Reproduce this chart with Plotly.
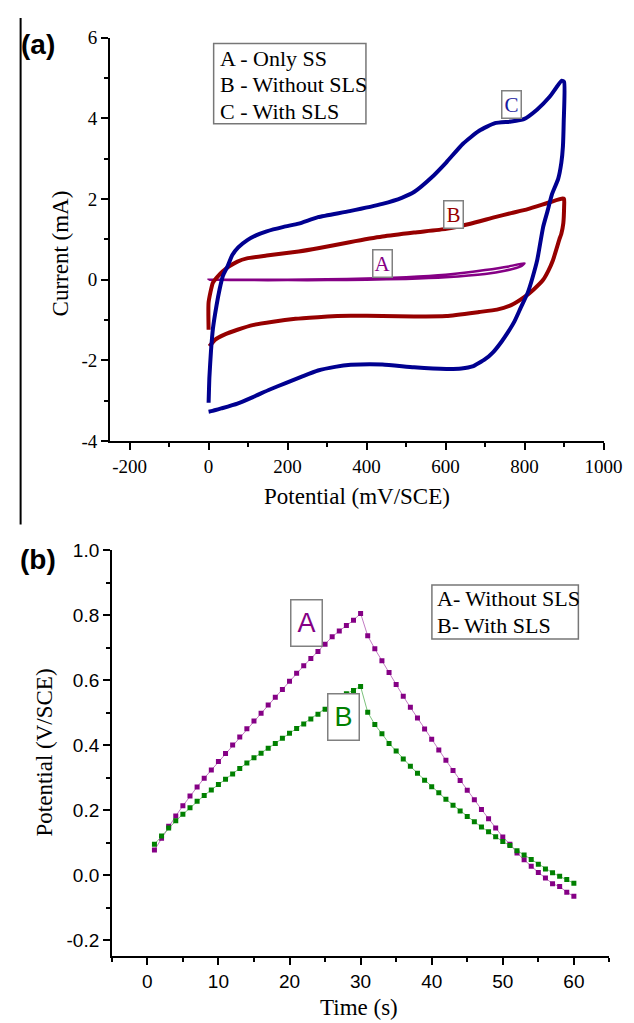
import plotly.graph_objects as go

W, H = 634, 1023

# ---------------- Panel (a): cyclic voltammograms ----------------
# C - With SLS (blue)
c_mv = [0, 2, 6, 11, 20, 28, 36, 48, 60, 75, 98, 120, 147, 190, 228, 277, 357, 440, 489, 521,
        563, 602, 644, 685, 725, 766, 798, 832, 864, 894, 900,
        899, 897, 893, 885, 869, 858, 847, 832, 820, 808, 790, 774, 758, 742, 720, 700, 668,
        640, 602, 520, 440, 360, 320, 277, 236, 195, 155, 114, 73, 32, 10, 0]
c_ma = [-3.05, -2.42, -1.77, -1.21, -0.64, -0.23, 0.09, 0.33, 0.61, 0.80, 0.98, 1.10, 1.20, 1.31, 1.39, 1.55, 1.70, 1.88, 2.03, 2.18,
        2.52, 2.91, 3.37, 3.69, 3.88, 3.92, 3.98, 4.22, 4.54, 4.93, 4.90,
        3.90, 3.30, 2.90, 2.50, 2.11, 1.70, 1.31, 0.49, 0.05, -0.32, -0.70, -1.04, -1.30, -1.53, -1.80, -1.97, -2.15,
        -2.20, -2.21, -2.17, -2.10, -2.11, -2.16, -2.25, -2.40, -2.56, -2.72, -2.90, -3.07, -3.19, -3.25, -3.27]

# B - Without SLS (dark red)
b_mv = [0, 0, 11, 24, 36, 52, 73, 97, 147, 228, 277, 357, 440, 520, 602, 660, 725, 766, 808, 864, 896, 900,
        900, 898, 893, 888, 872, 860, 847, 823, 798, 766, 730, 685, 602, 520, 440, 360, 326, 277, 220, 163,
        114, 73, 40, 16, 2]
b_ma = [-1.24, -0.56, -0.07, 0.09, 0.21, 0.33, 0.45, 0.53, 0.60, 0.70, 0.78, 0.93, 1.07, 1.17, 1.26, 1.38, 1.55, 1.65, 1.75, 1.92, 2.01, 2.00,
        1.80, 1.40, 1.14, 1.00, 0.49, 0.22, 0.00, -0.24, -0.44, -0.63, -0.74, -0.80, -0.90, -0.91, -0.90, -0.89, -0.90, -0.93, -0.97, -1.04,
        -1.12, -1.24, -1.36, -1.49, -1.65]

# A - Only SS (purple)
a_mv = [0, 100, 200, 300, 400, 500, 600, 700, 760, 800,
        790, 750, 700, 600, 500, 400, 300, 200, 100, 0]
a_ma = [0.0, 0.0, 0.0, 0.01, 0.03, 0.06, 0.12, 0.24, 0.33, 0.41,
        0.33, 0.22, 0.14, 0.06, 0.02, 0.0, -0.01, -0.01, -0.01, 0.0]

# ---------------- Panel (b): charge / discharge ----------------
time_s = list(range(1, 61))
pot_a = [0.077, 0.113, 0.150, 0.182, 0.213, 0.243, 0.271, 0.298, 0.323, 0.349,
         0.374, 0.400, 0.425, 0.450, 0.474, 0.498, 0.523, 0.547, 0.571, 0.596,
         0.621, 0.644, 0.666, 0.688, 0.710, 0.733, 0.751, 0.768, 0.784, 0.805,
         0.736, 0.696, 0.659, 0.623, 0.586, 0.550, 0.516, 0.483, 0.449, 0.418,
         0.385, 0.353, 0.322, 0.291, 0.261, 0.232, 0.202, 0.173, 0.145, 0.117,
         0.095, 0.068, 0.047, 0.027, 0.008, -0.009, -0.027, -0.035, -0.053, -0.065]
pot_b = [0.095, 0.120, 0.145, 0.167, 0.187, 0.207, 0.227, 0.245, 0.262, 0.279,
         0.295, 0.311, 0.328, 0.345, 0.361, 0.375, 0.390, 0.405, 0.421, 0.436,
         0.451, 0.465, 0.480, 0.495, 0.510, 0.525, 0.542, 0.558, 0.568, 0.580,
         0.501, 0.463, 0.435, 0.405, 0.382, 0.357, 0.335, 0.313, 0.292, 0.272,
         0.253, 0.233, 0.215, 0.197, 0.180, 0.164, 0.148, 0.133, 0.118, 0.103,
         0.091, 0.075, 0.062, 0.048, 0.033, 0.019, 0.007, -0.004, -0.014, -0.025]

# tick labels
xa_vals = [-200, 0, 200, 400, 600, 800, 1000]
xa_text = ["-200", "0", "200", "400", "600", "800", "1000"]
ya_vals = [-4, -2, 0, 2, 4, 6]
ya_text = ["-4", "-2", "0", "2", "4", "6"]
xb_vals = [0, 10, 20, 30, 40, 50, 60]
xb_text = ["0", "10", "20", "30", "40", "50", "60"]
yb_vals = [-0.2, 0.0, 0.2, 0.4, 0.6, 0.8, 1.0]
yb_text = ["-0.2", "0.0", "0.2", "0.4", "0.6", "0.8", "1.0"]

SERIF = "Liberation Serif"
SANS = "Liberation Sans"
BLUE = "#000090"
RED = "#960000"
PURP = "#850085"
GREEN = "#008000"

fig = go.Figure()

fig.add_trace(go.Scatter(x=a_mv, y=a_ma, mode="lines", xaxis="x", yaxis="y",
                         line=dict(color=PURP, width=2.5, shape="spline", smoothing=0.5)))
fig.add_trace(go.Scatter(x=b_mv, y=b_ma, mode="lines", xaxis="x", yaxis="y",
                         line=dict(color=RED, width=4, shape="spline", smoothing=0.5)))
fig.add_trace(go.Scatter(x=c_mv, y=c_ma, mode="lines", xaxis="x", yaxis="y",
                         line=dict(color=BLUE, width=4, shape="spline", smoothing=0.5)))

fig.add_trace(go.Scatter(x=time_s, y=pot_a, mode="lines+markers", xaxis="x2", yaxis="y2",
                         line=dict(color="#C27CC2", width=1),
                         marker=dict(symbol="square", size=5, color=PURP)))
fig.add_trace(go.Scatter(x=time_s, y=pot_b, mode="lines+markers", xaxis="x2", yaxis="y2",
                         line=dict(color="#7CC27C", width=1),
                         marker=dict(symbol="square", size=5, color=GREEN)))


def axis_common(font_family, size):
    return dict(showline=True, linecolor="black", linewidth=1.5, ticks="outside",
                ticklen=7, tickwidth=1.5, tickcolor="black", showgrid=False, zeroline=False,
                tickmode="array", tickfont=dict(family=font_family, size=size, color="black"))


xa = axis_common(SERIF, 19)
xa.update(domain=[105 / W, 614 / W], range=[-250, 1000], anchor="y",
          tickvals=xa_vals, ticktext=xa_text,
          minor=dict(ticks="outside", tickmode="linear", tick0=0, dtick=100, ticklen=4,
                     tickwidth=1.5, tickcolor="black"))
ya = axis_common(SERIF, 19)
ya.update(domain=[1 - 432 / H, 1 - 20 / H], range=[-4, 6], anchor="x",
          tickvals=ya_vals, ticktext=ya_text,
          minor=dict(ticks="outside", tickmode="linear", tick0=0, dtick=1, ticklen=4,
                     tickwidth=1.5, tickcolor="black"))
xb = axis_common(SANS, 19)
xb.update(domain=[107 / W, 620 / W], range=[-5, 65], anchor="y2",
          tickvals=xb_vals, ticktext=xb_text,
          minor=dict(ticks="outside", tickmode="linear", tick0=0, dtick=5, ticklen=4,
                     tickwidth=1.5, tickcolor="black"))
yb = axis_common(SANS, 19)
yb.update(domain=[1 - 958 / H, 1 - 543 / H], range=[-0.25, 1.0005], anchor="x2",
          tickvals=yb_vals, ticktext=yb_text,
          minor=dict(ticks="outside", tickmode="linear", tick0=0, dtick=0.1, ticklen=4,
                     tickwidth=1.5, tickcolor="black"))


def px(xp):
    return xp / W


def py(yp):
    return 1 - yp / H


annotations = []
shapes = []


def paper_text(text, x, y, size, family, angle=0, xanchor="center"):
    annotations.append(dict(text=text, x=px(x), y=py(y), xref="paper", yref="paper",
                            xanchor=xanchor, yanchor="middle", textangle=angle, showarrow=False,
                            font=dict(family=family, size=size, color="black")))


# panel letters
paper_text("<b>(a)</b>", 31, 27, 28, SANS)
paper_text("<b>(b)</b>", 31, 553, 28, SANS)
shapes.append(dict(type="line", xref="paper", yref="paper", x0=px(13), x1=px(13), y0=py(0), y1=py(517),
                   line=dict(color="black", width=2)))

# axis titles
paper_text("Current (mA)", 54, 240, 23, SERIF, angle=-90)
paper_text("Potential (mV/SCE)", 360, 489, 23, SERIF)
paper_text("Potential (V/SCE)", 38, 750, 23, SERIF, angle=-90)
paper_text("Time (s)", 362, 1010, 23, SERIF)

# legend boxes (drawn as text + rectangles)
shapes.append(dict(type="rect", xref="paper", yref="paper", x0=px(212), x1=px(369), y0=py(26), y1=py(108),
                   line=dict(color="#777777", width=1.5), fillcolor="rgba(0,0,0,0)"))
for txt, yy in [("A - Only SS", 41), ("B - Without SLS", 68), ("C - With SLS", 95)]:
    paper_text(txt, 217, yy, 22, SERIF, xanchor="left")
shapes.append(dict(type="rect", xref="paper", yref="paper", x0=px(437), x1=px(588), y0=py(579), y1=py(634),
                   line=dict(color="#777777", width=1.5), fillcolor="rgba(0,0,0,0)"))
for txt, yy in [("A- Without SLS", 593), ("B- With SLS", 620)]:
    paper_text(txt, 440, yy, 22, SERIF, xanchor="left")

# curve labels panel (a)
for txt, xv, yv, col in [("C", 768, 4.34, "#1a1aa0"), ("B", 619, 1.61, RED), ("A", 439, 0.39, PURP)]:
    annotations.append(dict(text=txt, x=xv, y=yv, xref="x", yref="y", showarrow=False,
                            xanchor="center", yanchor="middle",
                            font=dict(family=SERIF, size=21, color=col), width=18, height=26,
                            bordercolor="#808080", borderwidth=1.5, borderpad=0, bgcolor="white"))
# curve labels panel (b)
for txt, xv, yv, col in [("A", 22.43, 0.7756, PURP), ("B", 27.55, 0.485, GREEN)]:
    annotations.append(dict(text=txt, x=xv, y=yv, xref="x2", yref="y2", showarrow=False,
                            xanchor="center", yanchor="middle",
                            font=dict(family=SANS, size=27, color=col), width=30, height=45,
                            bordercolor="#808080", borderwidth=1.5, borderpad=0, bgcolor="white"))

fig.update_layout(width=W, height=H, autosize=False, margin=dict(l=0, r=0, t=0, b=0),
                  paper_bgcolor="white", plot_bgcolor="white", showlegend=False,
                  xaxis=xa, yaxis=ya, xaxis2=xb, yaxis2=yb,
                  annotations=annotations, shapes=shapes)

fig.write_html("out.html")
